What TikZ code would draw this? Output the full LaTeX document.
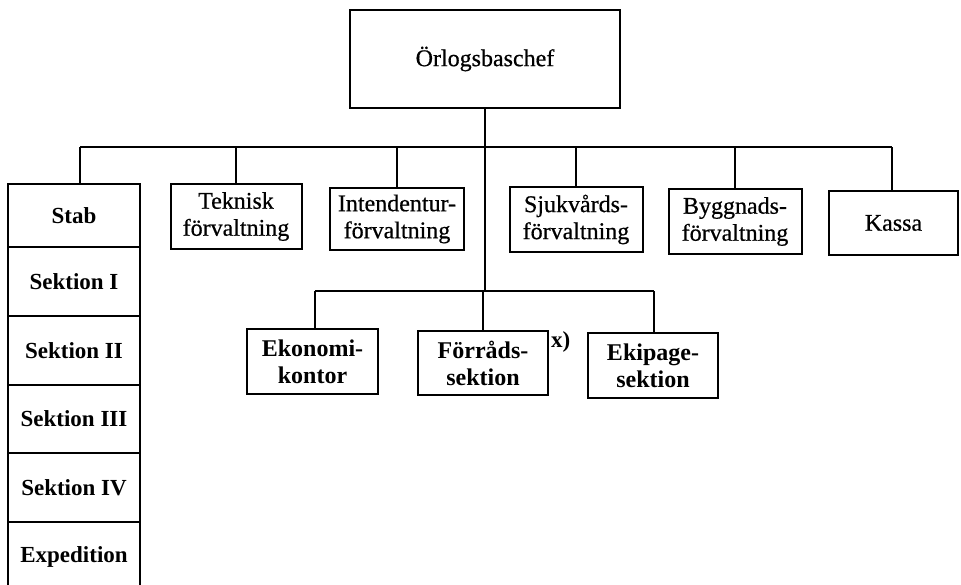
\documentclass[tikz,border=0pt]{standalone}
\usepackage{fontspec}
\setmainfont{Liberation Serif}
\newfontfamily\semibold{Liberation Serif}[FakeBold=0.6]
\begin{document}
\begin{tikzpicture}[x=1pt,y=-1pt,
  conn/.style={line width=2pt},
  box/.style={draw,line width=2pt,align=center,inner sep=0pt,
    font=\fontsize{24}{27}\selectfont\semibold},
  bbox/.style={box,font=\fontsize{24}{27}\selectfont\bfseries},
  cell/.style={draw,line width=2pt,align=center,inner sep=0pt,
    minimum width=132pt,font=\fontsize{23}{26}\selectfont\bfseries}]
\clip (0,0) rectangle (961,585);
\fill[white] (0,0) rectangle (961,585);
% top
\node[box,minimum width=270pt,minimum height=98pt] (chef) at (485,59) {Örlogsbaschef};
% staff column
\node[cell,minimum height=63pt] (stab) at (74,215.5) {Stab};
\node[cell,minimum height=69pt] (s1) at (74,281.5) {Sektion I};
\node[cell,minimum height=69pt] (s2) at (74,350.5) {Sektion II};
\node[cell,minimum height=68pt] (s3) at (74,419) {Sektion III};
\node[cell,minimum height=69pt] (s4) at (74,487.5) {Sektion IV};
\node[cell,minimum height=70pt] (exp) at (74,557) {Expedition};
% first row
\node[box,minimum width=131pt,minimum height=65pt] (tek) at (236,216.5) {Teknisk\\förvaltning};
\node[box,minimum width=134pt,minimum height=62pt] (int) at (397,219) {Intendentur-\\förvaltning};
\node[box,minimum width=133pt,minimum height=65pt] (sjuk) at (576,219.5) {Sjukvårds-\\förvaltning};
\node[box,minimum width=133pt,minimum height=65pt] (bygg) at (735,221.5) {Byggnads-\\förvaltning};
\node[box,minimum width=129pt,minimum height=64pt] (kassa) at (893.5,223) {Kassa};
% second row
\node[bbox,minimum width=131pt,minimum height=65pt] (eko) at (312.5,361.5) {Ekonomi-\\kontor};
\node[bbox,minimum width=130pt,minimum height=64pt] (forr) at (483,363) {Förråds-\\sektion};
\node[bbox,minimum width=130pt,minimum height=65pt] (ekip) at (653,365.5) {Ekipage-\\sektion};
\node[font=\fontsize{23}{26}\selectfont\bfseries,anchor=west,inner sep=0pt] (x) at (551,342) {x)};
% buses
\coordinate (busL) at (80,147);
\coordinate (busR) at (892,147);
\coordinate (subL) at (315,291);
\coordinate (subR) at (654,291);
\draw[conn] (busL) -- (busR);
\draw[conn] (subL) -- (subR);
\draw[conn] (chef.south) -- (chef.south |- subL);
\draw[conn] (stab.north -| busL) -- (busL);
\draw[conn] (tek.north) -- (tek.north |- busL);
\draw[conn] (int.north) -- (int.north |- busL);
\draw[conn] (sjuk.north) -- (sjuk.north |- busL);
\draw[conn] (bygg.north) -- (bygg.north |- busL);
\draw[conn] (kassa.north -| busR) -- (busR);
\draw[conn] (eko.north -| subL) -- (subL);
\draw[conn] (forr.north) -- (forr.north |- subL);
\draw[conn] (ekip.north -| subR) -- (subR);
\end{tikzpicture}
\end{document}
